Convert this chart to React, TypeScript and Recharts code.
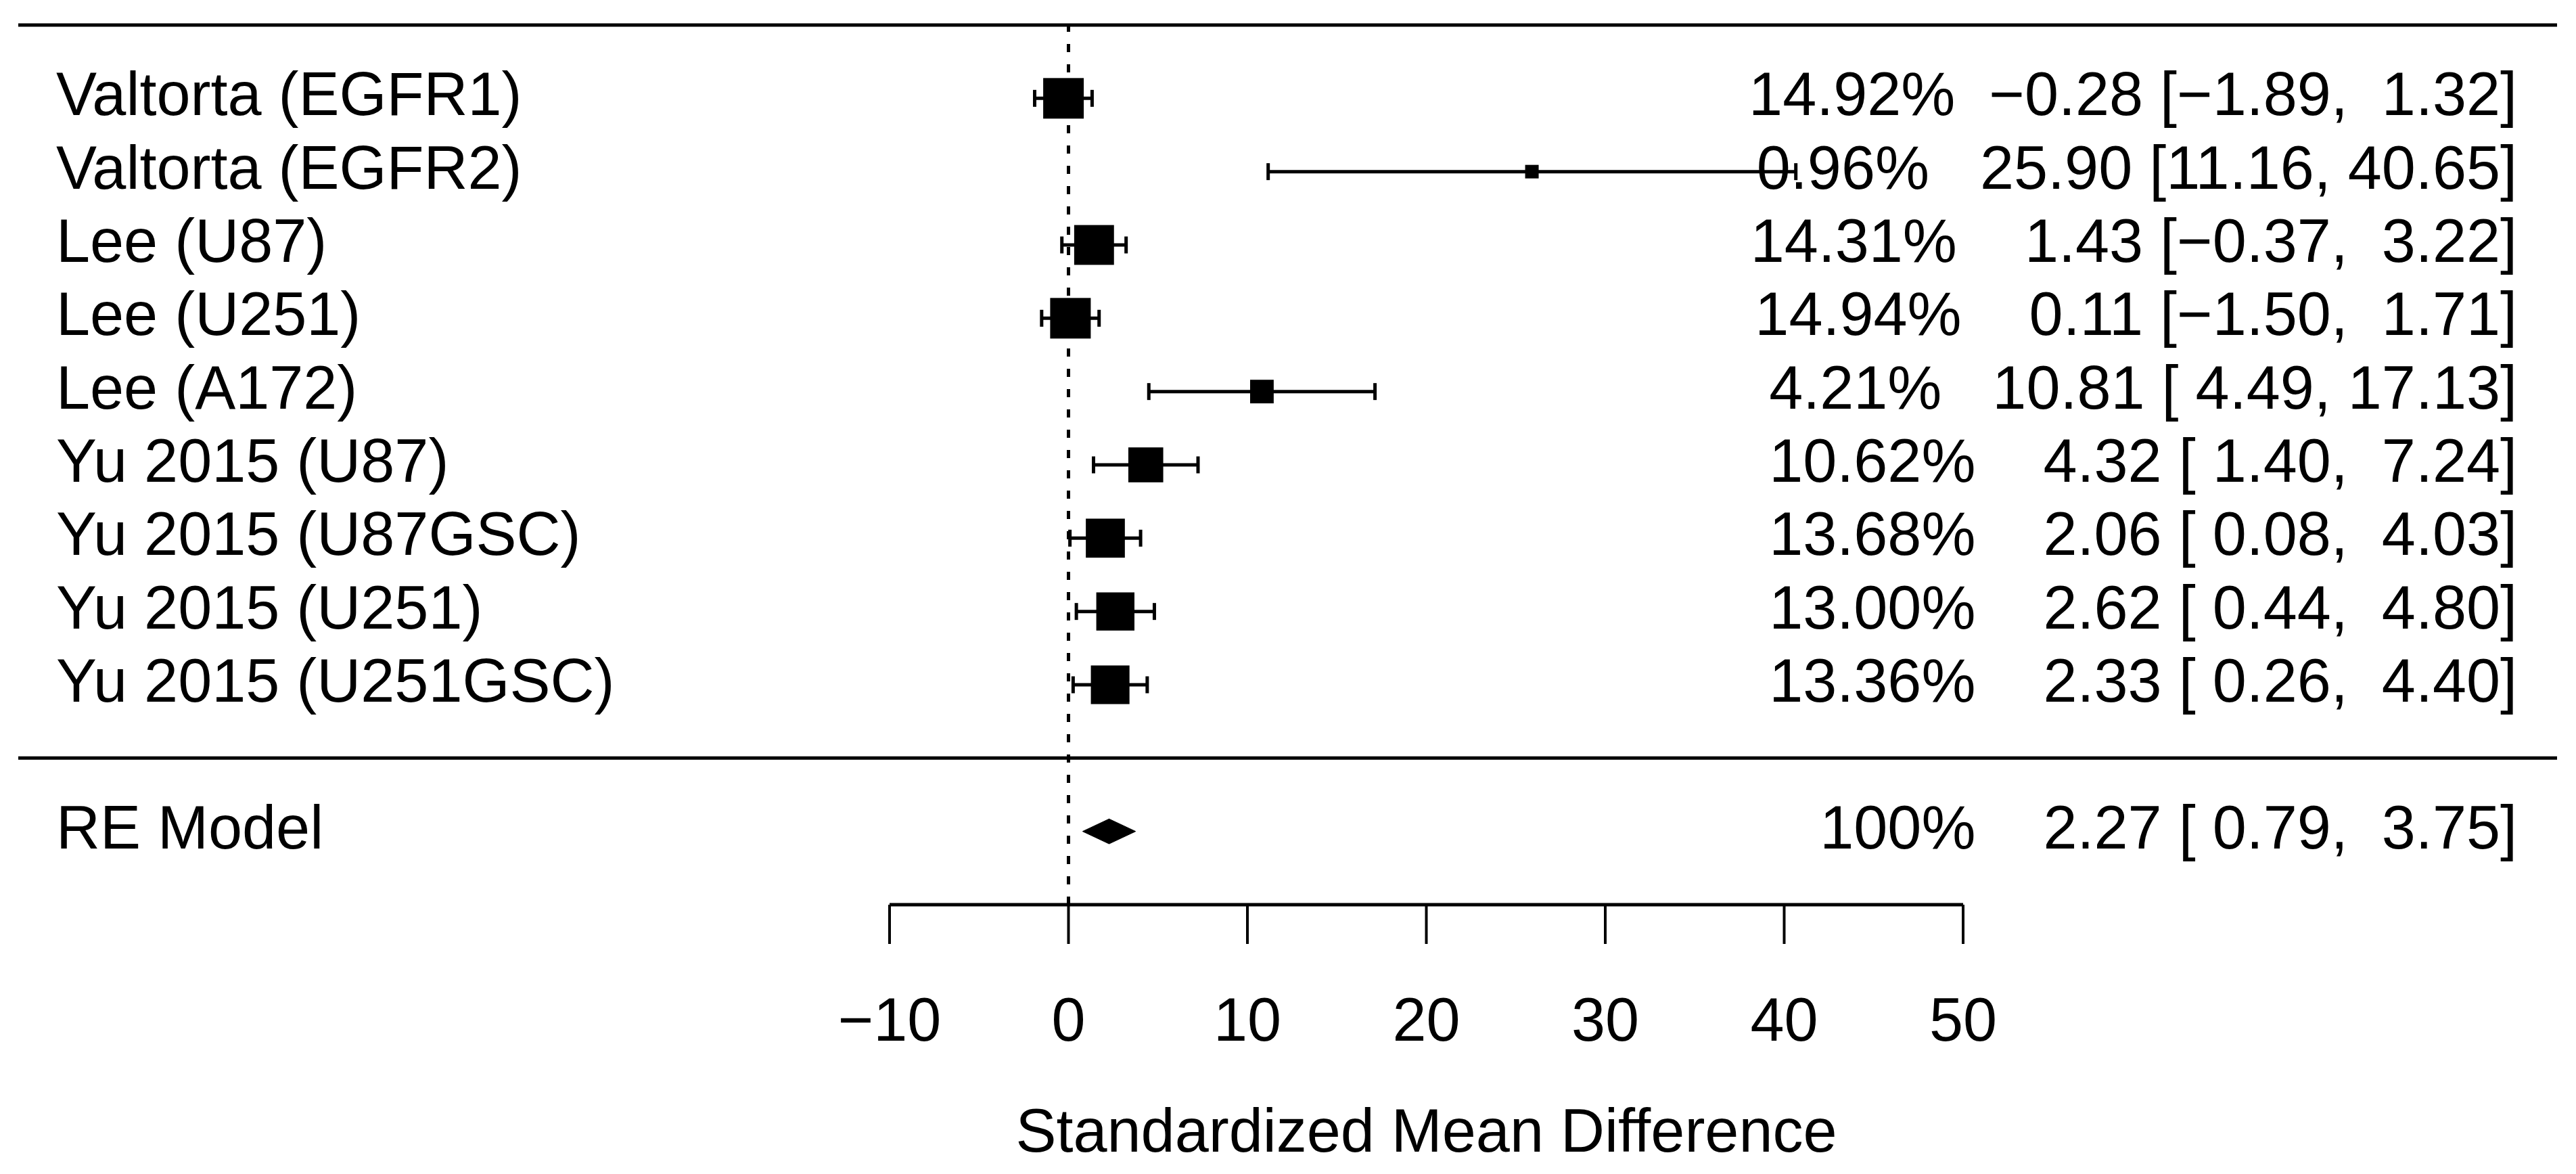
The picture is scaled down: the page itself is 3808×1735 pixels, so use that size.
import React from 'react'
import {
  ComposedChart,
  Scatter,
  Area,
  ErrorBar,
  XAxis,
  YAxis,
  ReferenceLine,
  Label,
} from 'recharts'

// study rows, top to bottom
const studies = [
  'Valtorta (EGFR1)',
  'Valtorta (EGFR2)',
  'Lee (U87)',
  'Lee (U251)',
  'Lee (A172)',
  'Yu 2015 (U87)',
  'Yu 2015 (U87GSC)',
  'Yu 2015 (U251)',
  'Yu 2015 (U251GSC)',
]
const weights = [14.92, 0.96, 14.31, 14.94, 4.21, 10.62, 13.68, 13.0, 13.36]
const estimates = [-0.28, 25.9, 1.43, 0.11, 10.81, 4.32, 2.06, 2.62, 2.33]
const ciLower = [-1.89, 11.16, -0.37, -1.5, 4.49, 1.4, 0.08, 0.44, 0.26]
const ciUpper = [1.32, 40.65, 3.22, 1.71, 17.13, 7.24, 4.03, 4.8, 4.4]

// random-effects summary
const summaryLabel = 'RE Model'
const summaryWeight = 100
const summaryEst = 2.27
const summaryLower = 0.79
const summaryUpper = 3.75

const xTicks = [-10, 0, 10, 20, 30, 40, 50]
const xTitle = 'Standardized Mean Difference'

// layout
const W = 3808
const H = 1735
const LEFT_W = 1315
const RIGHT_W = 906
const TOP = 37
const BOTTOM_H = 398
const PLOT_W = W - LEFT_W - RIGHT_W
const LABEL_X = 83
const ANNOT_X = 3721
const LINE_X0 = 27
const LINE_X1 = 3780
const FONT = '"Liberation Sans", Arial, Helvetica, sans-serif'
const FS = 90
const BOX_BASE = 40

const k = studies.length
const rows = studies.map((_, i) => k - i)
const summaryRow = -1

// pixel -> data x (only for the rules that run past the plot area)
const xAt = (px: number) => xTicks[0] + ((px - LEFT_W) * (xTicks[xTicks.length - 1] - xTicks[0])) / PLOT_W

const minus = (s: string) => s.replace(/-/g, '\u2212')
const fmt = (v: number) => v.toFixed(2)

const annot = (w: string, est: number, lb: number, ub: number) => {
  const e = fmt(est)
  const pad = ' '.repeat(Math.max(0, 6 - e.length - (est < 0 ? 1 : 0)))
  const s = `${w}  ${pad}${e} [${fmt(lb).padStart(5, ' ')}, ${fmt(ub).padStart(5, ' ')}]`
  return minus(s).replace(/ /g, '\u00A0')
}

const studyData = studies.map((name, i) => ({
  name,
  x: estimates[i],
  y: rows[i],
  weight: weights[i],
  err: [estimates[i] - ciLower[i], ciUpper[i] - estimates[i]],
}))

const labelByRow: Record<number, string> = {}
const annotByRow: Record<number, string> = {}
studies.forEach((s, i) => {
  labelByRow[rows[i]] = s
  annotByRow[rows[i]] = annot(`${weights[i].toFixed(2)}%`, estimates[i], ciLower[i], ciUpper[i])
})
labelByRow[summaryRow] = summaryLabel
annotByRow[summaryRow] = annot(`${summaryWeight}%`, summaryEst, summaryLower, summaryUpper)

const DIAMOND_H = 0.17
const diamondData = [
  { x: summaryLower, band: [summaryRow, summaryRow] },
  { x: summaryEst, band: [summaryRow - DIAMOND_H, summaryRow + DIAMOND_H] },
  { x: summaryUpper, band: [summaryRow, summaryRow] },
]

const sq = weights.map((w) => Math.sqrt(w))
const sqMin = Math.min(...sq)
const sqMax = Math.max(...sq)
const boxSide = (w: number) => BOX_BASE * (0.5 + (Math.sqrt(w) - sqMin) / (sqMax - sqMin))

const Box = (props: any) => {
  const { cx, cy, payload } = props
  const s = boxSide(payload.weight)
  return <rect x={cx - s / 2} y={cy - s / 2} width={s} height={s} fill="#000" />
}

// study label on the left, weight / estimate / CI on the right
const RowTick = (props: any) => {
  const { y, payload } = props
  return (
    <g>
      <text x={LABEL_X} y={y + 25} fontSize={FS} fontFamily={FONT} fill="#000" textAnchor="start">
        {labelByRow[payload.value]}
      </text>
      <text x={ANNOT_X} y={y + 25} fontSize={FS} fontFamily={FONT} fill="#000" textAnchor="end">
        {annotByRow[payload.value]}
      </text>
    </g>
  )
}

const XTick = (props: any) => {
  const { x, y, payload } = props
  return (
    <text x={x} y={y + 143} fontSize={FS} fontFamily={FONT} fill="#000" textAnchor="middle">
      {minus(String(payload.value))}
    </text>
  )
}

export default function App() {
  const yTicks = [...rows, summaryRow]
  return (
    <div style={{ position: 'absolute', left: 0, top: 0, width: W, height: H, background: '#fff' }}>
      <ComposedChart width={W} height={H} margin={{ top: TOP, right: RIGHT_W, bottom: 0, left: 0 }}>
        <XAxis
          dataKey="x"
          type="number"
          domain={[xTicks[0], xTicks[xTicks.length - 1]]}
          ticks={xTicks}
          interval={0}
          height={BOTTOM_H}
          axisLine={{ stroke: '#000', strokeWidth: 5 }}
          tickLine={{ stroke: '#000', strokeWidth: 4 }}
          tickSize={58}
          tickMargin={0}
          tick={<XTick />}
        >
          <Label
            value={xTitle}
            position="insideBottom"
            offset={33}
            fontSize={FS}
            fontFamily={FONT}
            fill="#000"
          />
        </XAxis>
        <YAxis
          yAxisId="l"
          dataKey="y"
          type="number"
          domain={[-2, k + 1]}
          ticks={yTicks}
          interval={0}
          width={LEFT_W}
          axisLine={false}
          tickLine={false}
          tick={<RowTick />}
        />
        <ReferenceLine
          yAxisId="l"
          ifOverflow="visible"
          segment={[
            { x: xAt(LINE_X0), y: k + 1 },
            { x: xAt(LINE_X1), y: k + 1 },
          ]}
          stroke="#000"
          strokeWidth={5}
        />
        <ReferenceLine
          yAxisId="l"
          ifOverflow="visible"
          segment={[
            { x: xAt(LINE_X0), y: 0 },
            { x: xAt(LINE_X1), y: 0 },
          ]}
          stroke="#000"
          strokeWidth={5}
        />
        <ReferenceLine yAxisId="l" x={0} stroke="#000" strokeWidth={5} strokeDasharray="12 18" />
        <Area
          yAxisId="l"
          data={diamondData}
          dataKey="band"
          type="linear"
          stroke="#000"
          strokeWidth={1}
          fill="#000"
          fillOpacity={1}
          dot={false}
          activeDot={false}
          isAnimationActive={false}
        />
        <Scatter yAxisId="l" data={studyData} shape={<Box />} isAnimationActive={false}>
          <ErrorBar dataKey="err" direction="x" width={12.5} strokeWidth={5} stroke="#000" />
        </Scatter>
      </ComposedChart>
    </div>
  )
}
